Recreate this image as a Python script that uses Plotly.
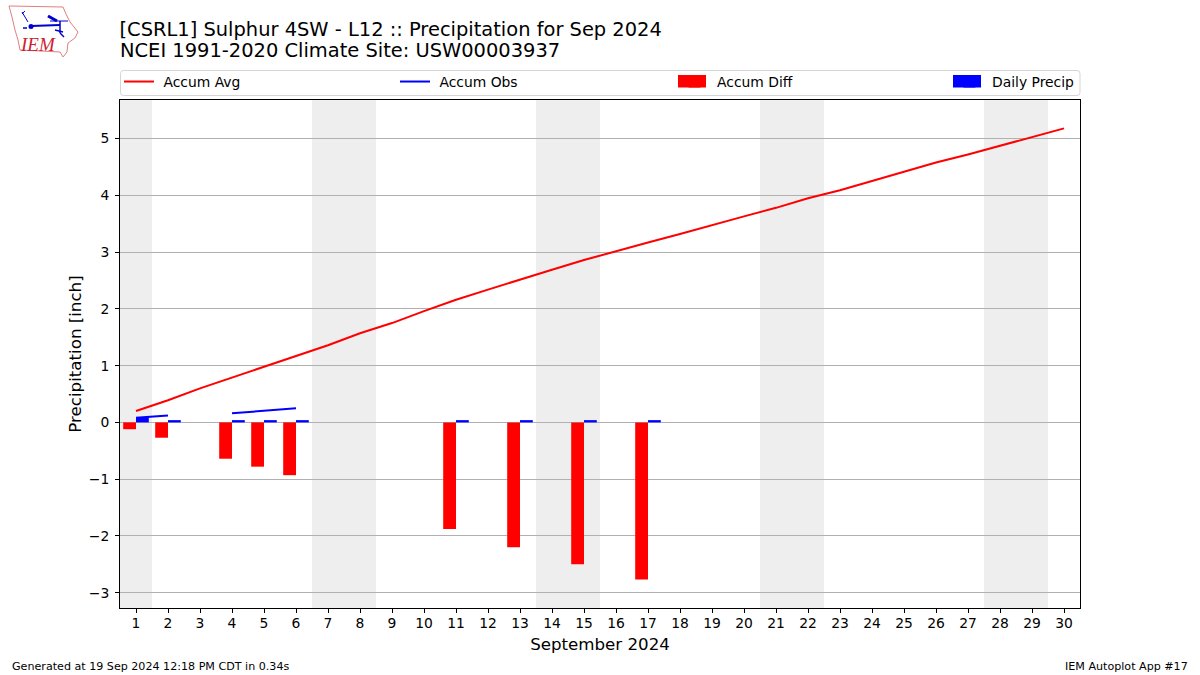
import plotly.graph_objects as go

days = list(range(1, 31))
accum_avg = [0.20, 0.39, 0.60, 0.79, 0.98, 1.17, 1.36, 1.57, 1.75, 1.96,
             2.16, 2.34, 2.52, 2.69, 2.86, 3.02, 3.17, 3.32, 3.48, 3.63,
             3.78, 3.95, 4.09, 4.25, 4.41, 4.58, 4.72, 4.87, 5.03, 5.18]
accum_obs = [0.08, 0.12, None, 0.16, 0.20, 0.25, None, None, None, None,
             0.28, None, 0.31, None, 0.35, None, 0.40, None, None, None,
             None, None, None, None, None, None, None, None, None, None]
accum_diff = [-0.12, -0.27, None, -0.64, -0.78, -0.93, None, None, None, None,
              -1.88, None, -2.20, None, -2.50, None, -2.77, None, None, None,
              None, None, None, None, None, None, None, None, None, None]
daily_precip = [0.09, 0.04, None, 0.04, 0.04, 0.04, None, None, None, None,
                0.04, None, 0.04, None, 0.04, None, 0.04, None, None, None,
                None, None, None, None, None, None, None, None, None, None]
weekends = [(0.5, 1.5), (6.5, 8.5), (13.5, 15.5), (20.5, 22.5), (27.5, 29.5)]
y_ticks = [-3, -2, -1, 0, 1, 2, 3, 4, 5]

FONT = "DejaVu Sans"
L, R, T, B = 120, 1080, 100, 608


def px(x):
    return (x - L) / (R - L)


def py(y):
    return (B - y) / (B - T)


def path(points, close=False):
    s = "M" + " L".join(f"{px(a):.5f},{py(b):.5f}" for a, b in points)
    return s + (" Z" if close else "")


def rounded(x0, y0, x1, y1, r):
    def p(a, b):
        return f"{px(a):.5f},{py(b):.5f}"
    return (f"M{p(x0 + r, y0)} L{p(x1 - r, y0)} Q{p(x1, y0)} {p(x1, y0 + r)} "
            f"L{p(x1, y1 - r)} Q{p(x1, y1)} {p(x1 - r, y1)} "
            f"L{p(x0 + r, y1)} Q{p(x0, y1)} {p(x0, y1 - r)} "
            f"L{p(x0, y0 + r)} Q{p(x0, y0)} {p(x0 + r, y0)} Z")


fig = go.Figure()
fig.add_trace(go.Scatter(x=days, y=accum_avg, mode="lines", name="\u00a0Accum Avg",
                         line=dict(color="#ff0000", width=2), legend="legend"))
fig.add_trace(go.Scatter(x=days, y=accum_obs, mode="lines", name="\u00a0Accum Obs",
                         line=dict(color="#0000ff", width=2), legend="legend2"))
fig.add_trace(go.Bar(x=days, y=accum_diff, name="Accum Diff", width=0.4, offset=-0.4,
                     marker=dict(color="#ff0000", line=dict(width=0)), legend="legend3"))
fig.add_trace(go.Bar(x=days, y=daily_precip, name="Daily Precip", width=0.4, offset=0,
                     marker=dict(color="#0000ff", line=dict(width=0)), legend="legend4"))

shapes = [dict(type="rect", xref="x", yref="paper", x0=a, x1=b, y0=0, y1=1,
               fillcolor="#eeeeee", line=dict(width=0), layer="below") for a, b in weekends]

# legend frame
shapes.append(dict(type="path", xref="paper", yref="paper", layer="above",
                   path=rounded(120.5, 70.5, 1080, 95.5, 3),
                   line=dict(color="#d5d5d5", width=1)))
# legend bar swatches
for x0, c in ((678, "#ff0000"), (953, "#0000ff")):
    shapes.append(dict(type="rect", xref="paper", yref="paper", layer="above",
                       x0=px(x0), x1=px(x0 + 28), y0=py(87.5), y1=py(75),
                       fillcolor=c, line=dict(width=0)))

# logo: state outline and weather station glyph
iowa = [(9, 6), (63, 7), (66, 14), (70, 22), (78, 32), (75, 38), (68, 43), (67, 52),
        (63, 57), (60, 52), (20, 50), (18, 40), (15, 30), (12, 17)]
shapes.append(dict(type="path", xref="paper", yref="paper", layer="above", path=path(iowa, True),
                   line=dict(color="#e08080", width=1), fillcolor="rgba(0,0,0,0)"))
for seg, w in (([(31, 26), (60, 25)], 2), ([(60, 21), (60, 33)], 1.5), ([(48, 16), (57, 21)], 3),
               ([(22, 12), (28, 22)], 1), ([(22, 14), (25, 11)], 1), ([(50, 21), (68, 21)], 1),
               ([(55, 30), (63, 32)], 1.5), ([(60, 33), (64, 37)], 1.5), ([(23, 28), (27, 28)], 1.5)):
    shapes.append(dict(type="path", xref="paper", yref="paper", layer="above", path=path(seg),
                       line=dict(color="#0000cc", width=w)))
shapes.append(dict(type="circle", xref="paper", yref="paper", layer="above",
                   x0=px(28.5), x1=px(33.5), y0=py(29), y1=py(24),
                   fillcolor="#0000cc", line=dict(width=0)))

note = dict(xref="paper", yref="paper", showarrow=False, font=dict(family=FONT, size=11.11, color="black"))
annotations = [
    dict(text="NCEI 1991-2020 Climate Site: USW00003937", x=px(117.5), y=py(51), xanchor="left", yanchor="middle",
         xref="paper", yref="paper", showarrow=False, font=dict(family=FONT, size=19.44, color="black")),
    dict(text="Generated at 19 Sep 2024 12:18 PM CDT in 0.34s", x=px(9.5), y=py(666),
         xanchor="left", yanchor="middle", **note),
    dict(text="IEM Autoplot App #17", x=px(1190), y=py(666), xanchor="right", yanchor="middle", **note),
    dict(text="<i>IEM</i>", x=px(38), y=py(45), xanchor="center", yanchor="middle", showarrow=False,
         xref="paper", yref="paper",
         font=dict(family="Liberation Serif", size=19, color="#cc2233"), textangle=0),
]

legend_common = dict(orientation="v", yanchor="middle", xanchor="left", bgcolor="rgba(0,0,0,0)",
                     borderwidth=0, font=dict(family=FONT, size=13.89, color="black"),
                     itemclick=False, itemdoubleclick=False)

fig.update_layout(
    width=1200, height=675, autosize=False,
    margin=dict(l=120, r=120, t=100, b=67, pad=0),
    paper_bgcolor="white", plot_bgcolor="white",
    font=dict(family=FONT, color="black"),
    barmode="overlay", showlegend=True,
    title=dict(text="[CSRL1] Sulphur 4SW - L12 :: Precipitation for Sep 2024",
               font=dict(family=FONT, size=19.44, color="black"),
               x=119.5 / 1200, xref="container", xanchor="left", y=1 - 29 / 675, yref="container", yanchor="middle"),
    legend=dict(x=px(119), y=py(82), **legend_common),
    legend2=dict(x=px(395), y=py(82), **legend_common),
    legend3=dict(x=px(672), y=py(82), itemwidth=35, **legend_common),
    legend4=dict(x=px(947), y=py(82), itemwidth=35, **legend_common),
    shapes=shapes, annotations=annotations,
    xaxis=dict(range=[0.5, 30.5], tickvals=days, ticktext=[str(d) for d in days],
               ticks="outside", ticklen=4, tickwidth=1, tickcolor="black", ticklabelstandoff=-2,
               showgrid=False, zeroline=False, showline=True, mirror=True,
               linecolor="black", linewidth=1,
               tickfont=dict(family=FONT, size=13.89, color="black"),
               title=dict(text="September 2024", standoff=8,
                          font=dict(family=FONT, size=16.67, color="black"))),
    yaxis=dict(range=[-3.27, 5.68], tickvals=y_ticks,
               ticktext=[str(v).replace("-", "\u2212") for v in y_ticks],
               ticks="outside", ticklen=4, tickwidth=1, tickcolor="black", ticklabelstandoff=3,
               showgrid=True, gridcolor="#b0b0b0", gridwidth=1, zeroline=False,
               showline=True, mirror=True, linecolor="black", linewidth=1,
               tickfont=dict(family=FONT, size=13.89, color="black"),
               title=dict(text="Precipitation [inch]", standoff=2,
                          font=dict(family=FONT, size=16.67, color="black"))),
)

fig.write_html("out.html", config={"displayModeBar": False},
               post_script="document.body.style.margin='0';")
